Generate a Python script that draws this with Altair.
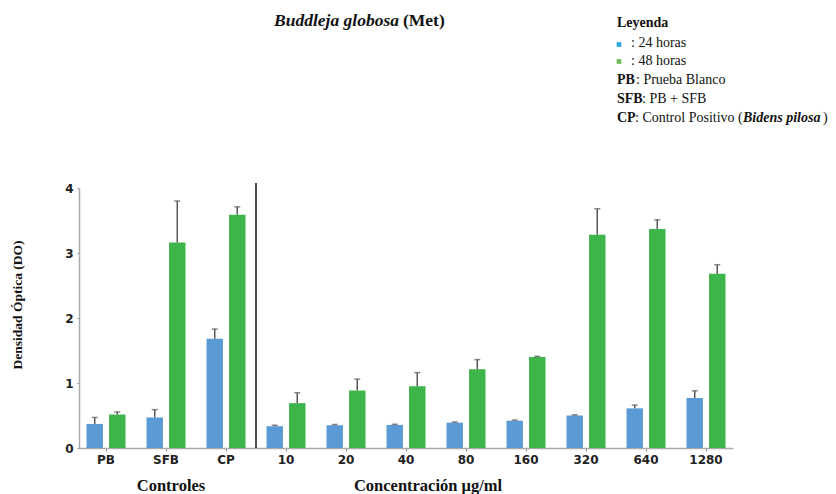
import altair as alt
import pandas as pd

categories = ["PB", "SFB", "CP", "10", "20", "40", "80", "160", "320", "640", "1280"]
series = ["24 horas", "48 horas"]
values_24 = [0.37, 0.47, 1.68, 0.335, 0.35, 0.355, 0.39, 0.42, 0.50, 0.61, 0.77]
err_24 = [0.10, 0.12, 0.15, 0.015, 0.01, 0.01, 0.01, 0.01, 0.01, 0.05, 0.11]
values_48 = [0.515, 3.16, 3.59, 0.69, 0.885, 0.95, 1.21, 1.40, 3.28, 3.37, 2.68]
err_48 = [0.04, 0.64, 0.12, 0.16, 0.175, 0.21, 0.15, 0.01, 0.40, 0.14, 0.14]
y_ticks = [0, 1, 2, 3, 4]

rows = []
for i, c in enumerate(categories):
    rows.append({"cat": c, "serie": series[0], "v": values_24[i], "top": values_24[i] + err_24[i]})
    rows.append({"cat": c, "serie": series[1], "v": values_48[i], "top": values_48[i] + err_48[i]})
df = pd.DataFrame(rows)

W, H = 654, 260
BAR_BLUE = "#5b9bd5"
BAR_GREEN = "#3db54a"
SLAB = "Liberation Serif"
SERIF = "Liberation Serif"
AXF = "DejaVu Sans"

x_enc = alt.X("cat:N", sort=categories,
              scale=alt.Scale(paddingInner=0.35, paddingOuter=0.125),
              axis=alt.Axis(title=None, labelAngle=0, labelFont=AXF,
                            labelFontWeight="bold", labelFontSize=12, labelColor="#222",
                            domainColor="#aaa", domainWidth=1.5, tickColor="#888",
                            tickSize=3, labelPadding=3))
xo = alt.XOffset("serie:N", sort=series, scale=alt.Scale(paddingInner=0.27, paddingOuter=0))
y_scale = alt.Scale(domain=[0, 4], nice=False)
y_enc = alt.Y("v:Q", scale=y_scale,
              axis=alt.Axis(title=None, values=y_ticks, format="d", grid=False, labelFont=AXF,
                            labelFontWeight="bold", labelFontSize=12, labelColor="#222",
                            domainColor="#aaa", domainWidth=1.5, tickColor="#888",
                            tickSize=2, labelPadding=4))

bars = alt.Chart(df).mark_bar().encode(
    x=x_enc, xOffset=xo, y=y_enc,
    color=alt.Color("serie:N", scale=alt.Scale(domain=series, range=[BAR_BLUE, BAR_GREEN]), legend=None),
)
err_line = alt.Chart(df).mark_rule(color="#555", strokeWidth=1.5).encode(
    x=alt.X("cat:N", sort=categories), xOffset=xo,
    y=alt.Y("v:Q", scale=y_scale), y2="top:Q",
)
err_cap = alt.Chart(df).mark_tick(color="#555", thickness=1.5, size=6).encode(
    x=alt.X("cat:N", sort=categories), xOffset=xo,
    y=alt.Y("top:Q", scale=y_scale),
)

step = W / (len(categories) - 0.35 + 0.25)
div_x = step * (0.125 + 3 - 0.35 / 2)
divider = alt.Chart(pd.DataFrame({"a": [0]})).mark_rule(color="#111", strokeWidth=1.5).encode(
    x=alt.value(div_x), y=alt.value(-5), y2=alt.value(H)
)


def txt(text, x, y, size, font, weight="normal", style="normal", color="#111", align="left", angle=0):
    props = dict(text=text, font=font, fontSize=size, fontWeight=weight, fontStyle=style,
                 color=color, align=align, baseline="alphabetic")
    if angle:
        props["angle"] = angle
        props["baseline"] = "middle"
    return alt.Chart(pd.DataFrame({"a": [0]})).mark_text(**props).encode(
        x=alt.value(x), y=alt.value(y))

# coordinates relative to plot origin (page x-79, y-188)
OX, OY = 79, 188
texts = [
    txt("Buddleja globosa", 399 - OX, 26 - OY, 17.5, SLAB, "bold", "italic", align="right"),
    txt("(Met)", 403 - OX, 26 - OY, 17.5, SLAB, "bold"),
    txt("Densidad Óptica (DO)", 18 - OX, 305 - OY, 13.5, SLAB, "bold", angle=270, align="center"),
    txt("Controles", 171 - OX, 491 - OY, 16.5, SLAB, "bold", align="center"),
    txt("Concentración μg/ml", 428 - OX, 491 - OY, 16.5, SLAB, "bold", align="center"),
    txt("Leyenda", 617 - OX, 27 - OY, 14, SERIF, "bold"),
    txt(": 24 horas", 631 - OX, 47 - OY, 14, SERIF),
    txt(": 48 horas", 631 - OX, 65 - OY, 14, SERIF),
    txt("PB", 617 - OX, 84 - OY, 14, SERIF, "bold"),
    txt(": Prueba Blanco", 636 - OX, 84 - OY, 14, SERIF),
    txt("SFB", 617 - OX, 103 - OY, 14, SERIF, "bold"),
    txt(": PB + SFB", 642 - OX, 103 - OY, 14, SERIF),
    txt("CP", 617 - OX, 122 - OY, 14, SERIF, "bold"),
    txt(": Control Positivo (", 635 - OX, 122 - OY, 14, SERIF),
    txt("Bidens pilosa", 743 - OX, 122 - OY, 14, SERIF, "bold", "italic"),
    txt(")", 823 - OX, 122 - OY, 14, SERIF),
]
sq = pd.DataFrame({"serie": series, "yy": [44.5 - OY, 61.5 - OY]})
squares = alt.Chart(sq).mark_square(size=22, opacity=1).encode(
    x=alt.value(619 - OX), y=alt.Y("yy:Q", scale=None),
    color=alt.Color("serie:N", scale=alt.Scale(domain=series, range=["#29aae1", "#6cbd5a"]), legend=None),
)

chart = alt.layer(bars, err_line, err_cap, divider, squares, *texts).resolve_scale(color="independent").properties(
    width=W, height=H,
    background="white",
    padding={"left": OX - 8, "top": OY - 8, "right": 820 - (OX - 8) - W, "bottom": 486 - (OY - 8) - H},
    autosize=alt.AutoSizeParams(type="none"),
).configure_view(stroke=None)

chart.save("out.html", embed_options={"renderer": "svg", "actions": False})
